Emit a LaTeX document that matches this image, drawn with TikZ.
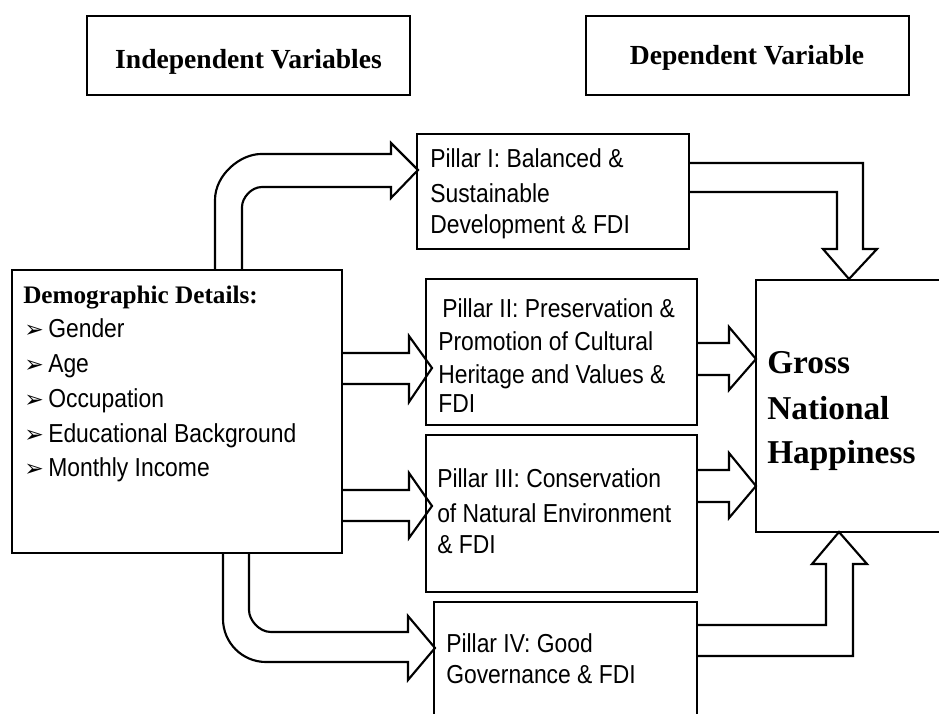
\documentclass[tikz,border=0pt]{standalone}
\usepackage{fontspec}
\setmainfont{Liberation Serif}
\newfontfamily\sansf[FakeStretch=0.88]{Liberation Sans}
\newfontfamily\dejavu{DejaVu Sans}
\usetikzlibrary{fit}
\newcommand\bul{\makebox[18pt][l]{\dejavu\fontsize{17.5}{17.5}\selectfont ➢}}
\begin{document}
\begin{tikzpicture}[x=0.75pt,y=-0.75pt,
  box/.style={draw,line width=1.5pt,inner sep=0pt},
  topbox/.style={draw,line width=2pt,inner sep=0pt},
  blockarrow/.style={draw,line width=1.6pt,line join=miter},
  stxt/.style={inner sep=0pt,anchor=base west,font=\sansf\fontsize{19.5}{19.5}\selectfont},
  btxt/.style={inner sep=0pt,anchor=base west,font=\bfseries\fontsize{18.9}{18.9}\selectfont},
  htxt/.style={inner sep=0pt,anchor=base,font=\bfseries\fontsize{20.7}{20.7}\selectfont},
  gtxt/.style={inner sep=0pt,anchor=base west,font=\bfseries\fontsize{25}{25}\selectfont}]
\useasboundingbox (0,0) rectangle (939,714);

% block arrows
\draw[blockarrow] (215,270) -- (215,200) .. controls (215,174.6) and (240.4,154) .. (261,154)
  -- (391,154) -- (391,143) -- (418,170) -- (391,198) -- (391,187) -- (262,187)
  .. controls (251,187) and (242,198) .. (242,207) -- (242,270);
\draw[blockarrow] (342,353) -- (409,353) -- (409,336) -- (432,368) -- (409,402) -- (409,384) -- (342,384);
\draw[blockarrow] (342,490) -- (409,490) -- (409,473) -- (432,506) -- (409,538) -- (409,521) -- (342,521);
\draw[blockarrow] (223,552) -- (223,619) .. controls (223,642.7) and (242.3,662) .. (266,662)
  -- (408,662) -- (408,680) -- (435,648) -- (408,616) -- (408,632) -- (271,632)
  .. controls (258.9,632) and (249,619.9) .. (249,610) -- (249,552);
\draw[blockarrow] (689,163) -- (863,163) -- (863,249) -- (877,249) -- (849,279) -- (823,249) -- (837,249) -- (837,192) -- (689,192);
\draw[blockarrow] (697,343) -- (729,343) -- (729,327) -- (756,359) -- (729,390) -- (729,375) -- (697,375);
\draw[blockarrow] (697,470) -- (729,470) -- (729,453) -- (756,486) -- (729,518) -- (729,502) -- (697,502);
\draw[blockarrow] (697,625) -- (826,625) -- (826,564) -- (812,564) -- (839,532) -- (867,564) -- (853,564) -- (853,656) -- (697,656);

% boxes
\node[topbox,fit={(87,16)(410,95)}] (indep) {};
\node[topbox,fit={(586,16)(909,95)}] (dep) {};
\node[box,fit={(12,270)(342,553)}] (demo) {};
\node[box,fit={(417,134)(689,249)}] (p1) {};
\node[box,fit={(426,279)(697,425)}] (p2) {};
\node[box,fit={(426,435)(697,592)}] (p3) {};
\node[box,fit={(434,602)(697,724)}] (p4) {};
\node[box,fit={(756,280)(944,532)}] (gnh) {};

% texts
\node[htxt] (indept) at (248.5,68) {Independent Variables};
\node[htxt] (dept) at (747,64) {Dependent Variable};

\node[btxt] (d0) at (23,303) {Demographic Details:};
\node[stxt] (d1) at (24,337) {\bul Gender};
\node[stxt] (d2) at (24,372) {\bul Age};
\node[stxt] (d3) at (24,407) {\bul Occupation};
\node[stxt] (d4) at (24,442) {\bul Educational Background};
\node[stxt] (d5) at (24,476) {\bul Monthly Income};

\node[stxt] (p1a) at (430,167) {Pillar I: Balanced \&};
\node[stxt] (p1b) at (430,202) {Sustainable};
\node[stxt] (p1c) at (430,233) {Development \& FDI};

\node[stxt] (p2a) at (442,317) {Pillar II: Preservation \&};
\node[stxt] (p2b) at (438,350) {Promotion of Cultural};
\node[stxt] (p2c) at (438,383) {Heritage and Values \&};
\node[stxt] (p2d) at (438,412) {FDI};

\node[stxt] (p3a) at (437,487) {Pillar III: Conservation};
\node[stxt] (p3b) at (437,522) {of Natural Environment};
\node[stxt] (p3c) at (437,553) {\& FDI};

\node[stxt] (p4a) at (446,652) {Pillar IV: Good};
\node[stxt] (p4b) at (446,683) {Governance \& FDI};

\node[gtxt] (g1) at (767,373) {Gross};
\node[gtxt] (g2) at (767,419) {National};
\node[gtxt] (g3) at (767,463) {Happiness};
\end{tikzpicture}
\end{document}
